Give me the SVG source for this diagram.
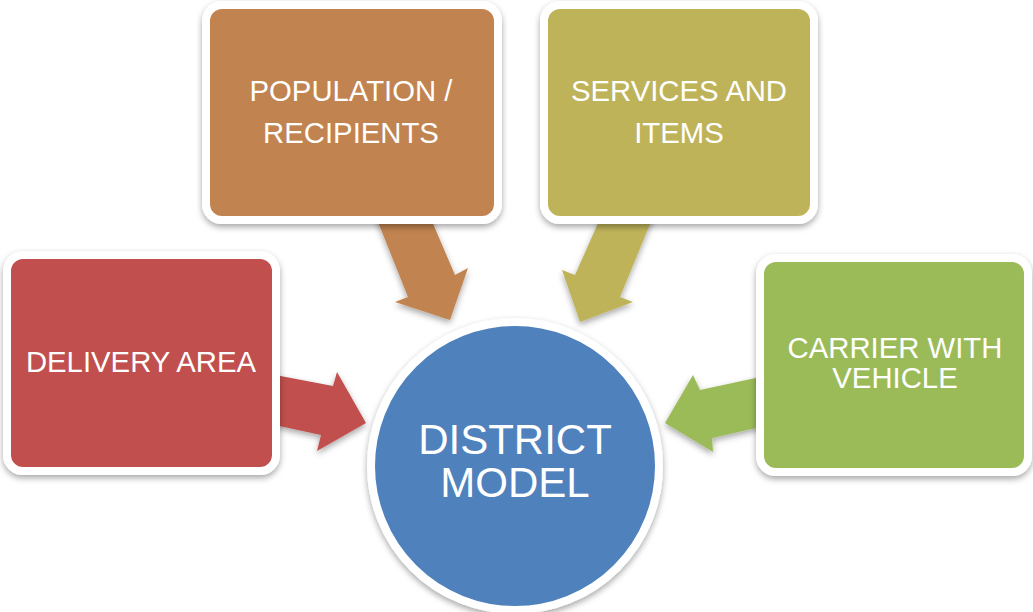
<svg xmlns="http://www.w3.org/2000/svg" width="1033" height="612" viewBox="0 0 1033 612">
  <defs>
    <filter id="sh" x="-20%" y="-20%" width="140%" height="140%">
      <feDropShadow dx="0" dy="3" stdDeviation="3" flood-color="#000" flood-opacity="0.35"/>
    </filter>
    <style>
      .box { stroke: #fff; stroke-width: 8; filter: url(#sh); }
      .arr { filter: url(#sh); }
      .t { font-family: "Liberation Sans", Arial, sans-serif; fill: #fff; text-anchor: middle; }
      .t28 { font-size: 29.3px; }
      .t42 { font-size: 42px; }
    </style>
  </defs>
  <rect width="1033" height="612" fill="#fff"/>

  <g id="connectors">
    <polygon class="arr" fill="#C0504D" points="270,374 333,386 337,372 366,423 317,451 321,435 270,424"/>
    <polygon class="arr" fill="#C1834F" points="374,212 408,297 395,302 450,320 468,268 455,275 428,212"/>
    <polygon class="arr" fill="#BFB35A" points="603,212 575,275 562,270 580,322 633,302 620,297 655,212"/>
    <polygon class="arr" fill="#9BBB59" points="765,376 700,390 693,375 665,423 713,452 712,438 765,426"/>
  </g>

  <g id="district-model">
    <circle class="box" cx="515" cy="466" r="144" fill="#4F81BD"/>
    <text class="t t42" x="515" y="454">DISTRICT</text>
    <text class="t t42" x="515" y="497">MODEL</text>
  </g>

  <g id="delivery-area">
    <rect class="box" x="7" y="255" width="269" height="216" rx="16" fill="#C0504D"/>
    <text class="t t28" x="141" y="372">DELIVERY AREA</text>
  </g>

  <g id="population">
    <rect class="box" x="206" y="5" width="292" height="215" rx="16" fill="#C1834F"/>
    <text class="t t28" x="351" y="101">POPULATION /</text>
    <text class="t t28" x="351" y="143">RECIPIENTS</text>
  </g>

  <g id="services">
    <rect class="box" x="544" y="5" width="270" height="215" rx="16" fill="#BFB35A"/>
    <text class="t t28" x="679" y="101">SERVICES AND</text>
    <text class="t t28" x="679" y="143">ITEMS</text>
  </g>

  <g id="carrier">
    <rect class="box" x="760" y="258" width="268" height="214" rx="16" fill="#9BBB59"/>
    <text class="t t28" x="895" y="358">CARRIER WITH</text>
    <text class="t t28" x="895" y="388">VEHICLE</text>
  </g>
</svg>
